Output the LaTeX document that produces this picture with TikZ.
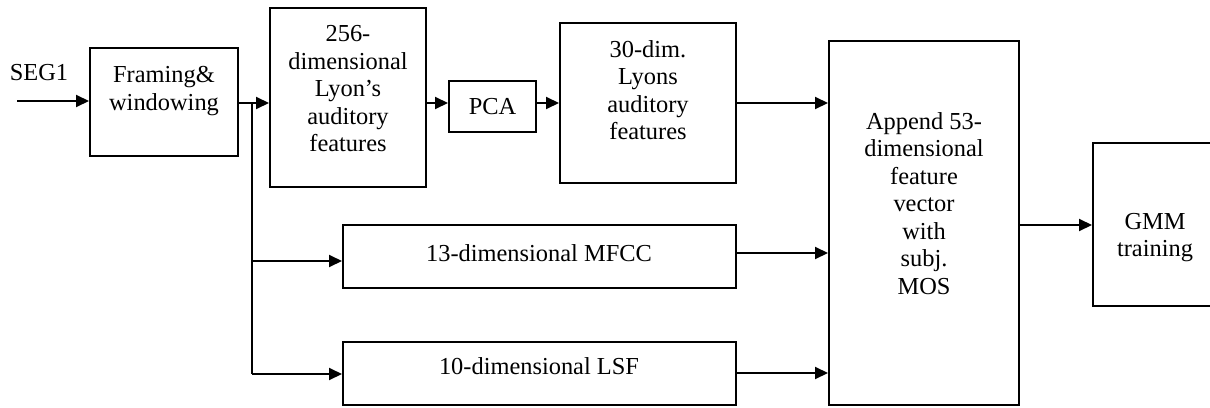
\documentclass[tikz,border=0pt]{standalone}
\usepackage{fontspec}
\setmainfont{Liberation Serif}
\usetikzlibrary{arrows.meta}
\begin{document}
\begin{tikzpicture}[x=0.5pt,y=-0.5pt,
  box/.style={draw,line width=1pt,rectangle,inner sep=0pt},
  lbl/.style={align=center,font=\fontsize{12.2}{13.75}\selectfont,inner sep=0pt},
  arr/.style={line width=1pt,-{Triangle[length=6.5pt,width=6pt]}},
  ln/.style={line width=1pt}]
\useasboundingbox (0,0) rectangle (1210,407);
\clip (0,0) rectangle (1210,407);
% boxes
\node[box,minimum width=74pt,minimum height=54pt] (frame) at (164,102) {};
\node[box,minimum width=78pt,minimum height=89.5pt] (lyon256) at (348,97.5) {};
\node[box,minimum width=43.5pt,minimum height=25.5pt] (pca) at (492.5,106.5) {};
\node[box,minimum width=88pt,minimum height=80pt] (lyon30) at (648,103) {};
\node[box,minimum width=196.5pt,minimum height=31.5pt] (mfcc) at (539.5,256.5) {};
\node[box,minimum width=196.5pt,minimum height=31.5pt] (lsf) at (539.5,373.5) {};
\node[box,minimum width=95pt,minimum height=182pt] (append) at (924,223) {};
\node[box,minimum width=62pt,minimum height=81.5pt] (gmm) at (1155,224.5) {};
% texts
\node[lbl] (tseg) at (39,73) {SEG1};
\node[lbl] (tframe) at (164,91) {Framing\&\\windowing};
\node[lbl] (t256) at (348,89) {256-\\dimensional\\Lyon’s\\auditory\\features};
\node[lbl] (tpca) at (492.5,107) {PCA};
\node[lbl] (t30) at (648,90) {30-dim.\\Lyons\\auditory\\features};
\node[lbl] (tmfcc) at (539,253) {13-dimensional MFCC};
\node[lbl] (tlsf) at (539,366) {10-dimensional LSF};
\node[lbl] (tapp) at (924,203.5) {Append 53-\\dimensional\\feature\\vector\\with\\subj.\\MOS};
\node[lbl] (tgmm) at (1155,237.5) {GMM\\training};
% connector points
\coordinate (s) at (17,101);
\coordinate (br) at (252,103);
\coordinate (b1) at (252,261);
\coordinate (b2) at (252,374);
\coordinate (r1) at (0,103);
\coordinate (r2) at (0,253);
\coordinate (r3) at (0,373);
\coordinate (r4) at (0,225);
% connectors
\draw[arr] (s) -- (s -| frame.west);
\draw[arr] (frame.east |- br) -- (lyon256.west |- br);
\draw[ln] (br) -- (b2);
\draw[arr] (b1) -- (b1 -| mfcc.west);
\draw[arr] (b2) -- (b2 -| lsf.west);
\draw[arr] (lyon256.east |- r1) -- (pca.west |- r1);
\draw[arr] (pca.east |- r1) -- (lyon30.west |- r1);
\draw[arr] (lyon30.east |- r1) -- (append.west |- r1);
\draw[arr] (mfcc.east |- r2) -- (append.west |- r2);
\draw[arr] (lsf.east |- r3) -- (append.west |- r3);
\draw[arr] (append.east |- r4) -- (gmm.west |- r4);
\end{tikzpicture}
\end{document}
